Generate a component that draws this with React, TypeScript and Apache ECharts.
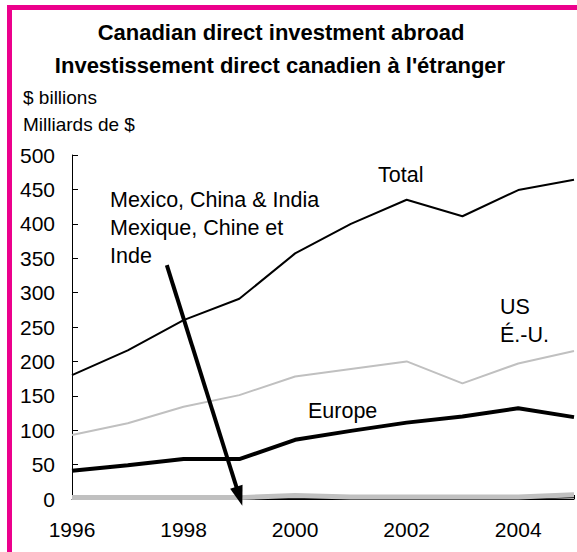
import React, { useEffect, useRef } from "react";
import * as echarts from "echarts";

const years = [1996, 1997, 1998, 1999, 2000, 2001, 2002, 2003, 2004, 2005];
const totalValues = [180, 216, 260, 291, 357, 400, 435, 411, 449, 464];
const usValues = [93, 110, 134, 151, 178, 189, 200, 168, 197, 215];
const europeValues = [41, 49, 58, 58, 86, 99, 111, 120, 132, 119];
const mciValues = [2, 2, 2, 2, 5, 3, 3, 3, 3, 6];
const otherLowValues = [null, null, null, 0, 1, 0, 0, 0, 0, 2];
const yTicks = [0, 50, 100, 150, 200, 250, 300, 350, 400, 450, 500];
const arrowStart = [1997.7, 340];
const arrowEnd = [1999, 4];

const FONT = "'Liberation Sans', Arial, sans-serif";
const PINK = "#ec008c";

export default function App() {
  const ref = useRef<HTMLDivElement>(null);
  useEffect(() => {
    const chart = echarts.init(ref.current!, null, { renderer: "svg" });
    const pairs = (vals: (number | null)[]) => years.map((y, i) => [y, vals[i]]);
    const ann = (text: string, x: number, y: number) => ({
      type: "text",
      x,
      y,
      style: { text, font: `21.5px ${FONT}`, fill: "#000", verticalAlign: "middle" },
    });
    chart.setOption({
      animation: false,
      backgroundColor: "#ffffff",
      textStyle: { fontFamily: FONT },
      grid: { left: 72, right: 1, top: 155, bottom: 53, containLabel: false },
      xAxis: {
        type: "value",
        min: 1996,
        max: 2005,
        interval: 1,
        axisLine: { show: true, lineStyle: { color: "#000", width: 1 } },
        axisTick: { show: true, inside: true, length: 4, lineStyle: { color: "#000" } },
        splitLine: { show: false },
        axisLabel: {
          color: "#000",
          fontSize: 21,
          fontFamily: FONT,
          margin: 20,
          formatter: (v: number) => (v % 2 === 0 && v < 2005 ? String(v) : ""),
        },
      },
      yAxis: {
        type: "value",
        min: yTicks[0],
        max: yTicks[yTicks.length - 1],
        interval: yTicks[1] - yTicks[0],
        axisLine: { show: true, lineStyle: { color: "#000", width: 1 } },
        axisTick: { show: true, inside: true, length: 6, lineStyle: { color: "#000" } },
        splitLine: { show: false },
        axisLabel: { color: "#000", fontSize: 21, fontFamily: FONT, margin: 17 },
      },
      series: [
        {
          name: "US",
          type: "line",
          data: pairs(usValues),
          symbol: "none",
          lineStyle: { color: "#c0c0c0", width: 2 },
          z: 2,
        },
        {
          name: "Total",
          type: "line",
          data: pairs(totalValues),
          symbol: "none",
          lineStyle: { color: "#000", width: 2 },
          z: 3,
        },
        {
          name: "Europe",
          type: "line",
          data: pairs(europeValues),
          symbol: "none",
          lineStyle: { color: "#000", width: 4 },
          z: 3,
        },
        {
          name: "Other",
          type: "line",
          data: pairs(otherLowValues),
          symbol: "none",
          lineStyle: { color: "#000", width: 1.5 },
          z: 2,
        },
        {
          name: "Mexico, China & India",
          type: "line",
          data: pairs(mciValues),
          symbol: "none",
          lineStyle: { color: "#c0c0c0", width: 5 },
          z: 3,
          markLine: {
            silent: true,
            symbol: ["none", "triangle"],
            symbolSize: [13, 20],
            label: { show: false },
            lineStyle: { color: "#000", width: 4, type: "solid" },
            data: [[{ coord: arrowStart }, { coord: arrowEnd }]],
          },
        },
      ],
      graphic: [
        { type: "rect", shape: { x: 7, y: 5, width: 5, height: 600 }, style: { fill: PINK } },
        { type: "rect", shape: { x: 7, y: 5, width: 600, height: 5 }, style: { fill: PINK } },
        {
          type: "text", x: 281, y: 32,
          style: { text: "Canadian direct investment abroad", font: `bold 22px ${FONT}`, fill: "#000", align: "center", verticalAlign: "middle" },
        },
        {
          type: "text", x: 280, y: 65,
          style: { text: "Investissement direct canadien à l'étranger", font: `bold 22px ${FONT}`, fill: "#000", align: "center", verticalAlign: "middle" },
        },
        { type: "text", x: 23, y: 97, style: { text: "$ billions", font: `19px ${FONT}`, fill: "#000", verticalAlign: "middle" } },
        { type: "text", x: 23, y: 124, style: { text: "Milliards de $", font: `19px ${FONT}`, fill: "#000", verticalAlign: "middle" } },
        ann("Mexico, China & India", 110, 200),
        ann("Mexique, Chine et", 110, 228),
        ann("Inde", 110, 256),
        ann("Total", 378, 175),
        ann("US", 500, 307),
        ann("É.-U.", 500, 335),
        ann("Europe", 308, 411),
      ],
    });
    return () => chart.dispose();
  }, []);
  return (
    <div
      ref={ref}
      style={{ position: "absolute", left: 0, top: 0, width: 577, height: 552 }}
    />
  );
}
